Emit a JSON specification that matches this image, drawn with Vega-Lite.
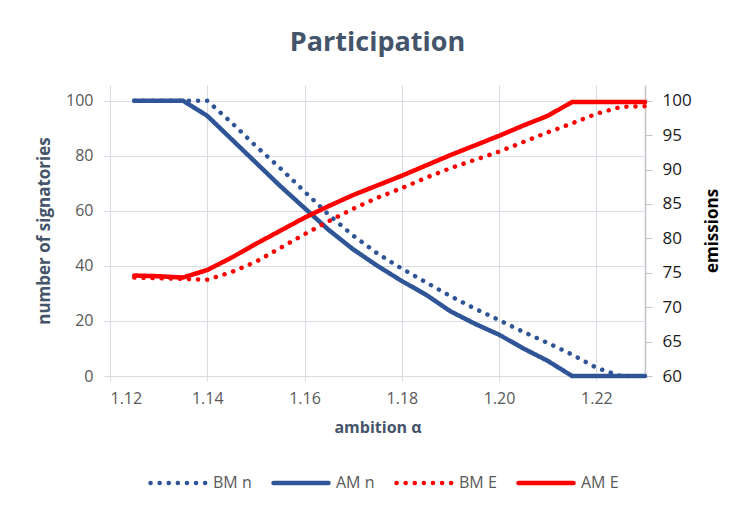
{
  "$schema": "https://vega.github.io/schema/vega-lite/v6.json",
  "width": 535,
  "height": 291,
  "autosize": {"type": "none"},
  "padding": {"left": 110, "top": 85, "right": 98, "bottom": 135},
  "background": "white",
  "title": {"text": "Participation", "anchor": "middle", "frame": "group", "offset": 28, "font": "Open Sans", "fontSize": 27, "fontWeight": "bold", "color": "#44546A"},
  "config": {
    "view": {"stroke": null},
    "font": "Open Sans"
  },
  "data": {
    "values": [
      {"a": 1.125, "BM n": 100, "AM n": 100, "BM E": 74.3, "AM E": 74.6},
      {"a": 1.13, "BM n": 100, "AM n": 100, "BM E": 74.2, "AM E": 74.5},
      {"a": 1.135, "BM n": 100, "AM n": 100, "BM E": 74.1, "AM E": 74.3},
      {"a": 1.14, "BM n": 100, "AM n": 94.5, "BM E": 74.0, "AM E": 75.4},
      {"a": 1.145, "BM n": 92, "AM n": 86, "BM E": 75.1, "AM E": 77.2},
      {"a": 1.15, "BM n": 83.5, "AM n": 77.5, "BM E": 76.6, "AM E": 79.2},
      {"a": 1.155, "BM n": 75.5, "AM n": 69, "BM E": 78.6, "AM E": 81.1},
      {"a": 1.16, "BM n": 67, "AM n": 61, "BM E": 80.6, "AM E": 83.0},
      {"a": 1.165, "BM n": 58.5, "AM n": 53, "BM E": 82.5, "AM E": 84.7},
      {"a": 1.17, "BM n": 51, "AM n": 46, "BM E": 84.3, "AM E": 86.3},
      {"a": 1.175, "BM n": 44.5, "AM n": 40, "BM E": 85.9, "AM E": 87.7},
      {"a": 1.18, "BM n": 39, "AM n": 34.5, "BM E": 87.3, "AM E": 89.1},
      {"a": 1.185, "BM n": 34, "AM n": 29.5, "BM E": 88.8, "AM E": 90.6},
      {"a": 1.19, "BM n": 29, "AM n": 23.5, "BM E": 90.2, "AM E": 92.1},
      {"a": 1.195, "BM n": 24.5, "AM n": 19, "BM E": 91.4, "AM E": 93.5},
      {"a": 1.2, "BM n": 20.3, "AM n": 15, "BM E": 92.6, "AM E": 94.9},
      {"a": 1.205, "BM n": 16, "AM n": 10, "BM E": 94.0, "AM E": 96.4},
      {"a": 1.21, "BM n": 12, "AM n": 5.5, "BM E": 95.4, "AM E": 97.8},
      {"a": 1.215, "BM n": 7.8, "AM n": 0, "BM E": 96.7, "AM E": 99.8},
      {"a": 1.22, "BM n": 3, "AM n": 0, "BM E": 98.1, "AM E": 99.8},
      {"a": 1.225, "BM n": 0, "AM n": 0, "BM E": 99.1, "AM E": 99.8},
      {"a": 1.23, "BM n": 0, "AM n": 0, "BM E": 99.2, "AM E": 99.8}
    ]
  },
  "encoding": {
    "x": {
      "field": "a", "type": "quantitative",
      "scale": {"domain": [1.12, 1.23], "nice": false, "zero": false},
      "axis": {
        "title": "ambition α", "values": [1.12, 1.14, 1.16, 1.18, 1.2, 1.22], "format": ".2f",
        "grid": true, "gridColor": "#D9DCE3", "domain": true, "domainColor": "#D9DCE3",
        "ticks": true, "tickColor": "#D9DCE3", "tickSize": 5,
        "labelFont": "Open Sans", "labelFontSize": 16, "labelColor": "#595959", "labelPadding": 9,
        "titleFont": "Open Sans", "titleFontSize": 16, "titleFontWeight": "bold", "titleColor": "#44546A", "titlePadding": 13
      }
    },
    "color": {
      "field": "series", "type": "nominal",
      "scale": {"domain": ["BM n", "AM n", "BM E", "AM E"], "range": ["#2F5597", "#2F5597", "#FF0000", "#FF0000"]},
      "legend": {
        "orient": "none", "legendX": 38, "legendY": 368, "direction": "horizontal", "title": null,
        "symbolType": "stroke", "symbolSize": 3025, "symbolStrokeWidth": 4.5,
        "labelFont": "Open Sans", "labelFontSize": 16, "labelColor": "#595959", "labelOffset": 5, "columnPadding": 12,
        "encode": {"symbols": {"update": {"strokeCap": {"value": "round"}}}}
      }
    },
    "strokeDash": {
      "field": "series", "type": "nominal",
      "scale": {"domain": ["BM n", "AM n", "BM E", "AM E"], "range": [[0.1, 9], [1, 0], [0.1, 9], [1, 0]]},
      "legend": {
        "orient": "none", "legendX": 38, "legendY": 368, "direction": "horizontal", "title": null,
        "symbolType": "stroke", "symbolSize": 3025, "symbolStrokeWidth": 4.5,
        "labelFont": "Open Sans", "labelFontSize": 16, "labelColor": "#595959", "labelOffset": 5, "columnPadding": 12,
        "encode": {"symbols": {"update": {"strokeCap": {"value": "round"}}}}
      }
    }
  },
  "layer": [
    {
      "transform": [{"fold": ["BM n", "AM n"], "as": ["series", "value"]}],
      "mark": {"type": "line", "strokeWidth": 4.5, "strokeCap": "round", "strokeJoin": "round"},
      "encoding": {
        "y": {
          "field": "value", "type": "quantitative",
          "scale": {"domain": [0, 105.7], "nice": false},
          "axis": {
            "title": "number of signatories", "values": [0, 20, 40, 60, 80, 100],
            "grid": true, "gridColor": "#D9DCE3", "domain": false,
            "ticks": true, "tickColor": "#D9DCE3", "tickSize": 7,
            "labelFont": "Open Sans", "labelFontSize": 16, "labelColor": "#595959", "labelPadding": 10,
            "titleFont": "Open Sans", "titleFontSize": 17, "titleFontWeight": "bold", "titleColor": "#44546A", "titlePadding": 12
          }
        }
      }
    },
    {
      "transform": [{"fold": ["BM E", "AM E"], "as": ["series", "value"]}],
      "mark": {"type": "line", "strokeWidth": 4.5, "strokeCap": "round", "strokeJoin": "round"},
      "encoding": {
        "y": {
          "field": "value", "type": "quantitative",
          "scale": {"domain": [60, 102.28], "nice": false, "zero": false},
          "axis": {
            "orient": "right", "title": "emissions", "values": [60, 65, 70, 75, 80, 85, 90, 95, 100],
            "grid": false, "domain": true, "domainColor": "#BFC3CA", "domainWidth": 1.5,
            "ticks": true, "tickColor": "#BFC3CA", "tickSize": 7,
            "labelFont": "Open Sans", "labelFontSize": 17, "labelColor": "#1A1A1A", "labelPadding": 10,
            "titleFont": "Open Sans", "titleFontSize": 17, "titleFontWeight": "bold", "titleColor": "#000000", "titleAngle": 270, "titlePadding": 30
          }
        }
      }
    }
  ],
  "resolve": {"scale": {"y": "independent"}}
}
